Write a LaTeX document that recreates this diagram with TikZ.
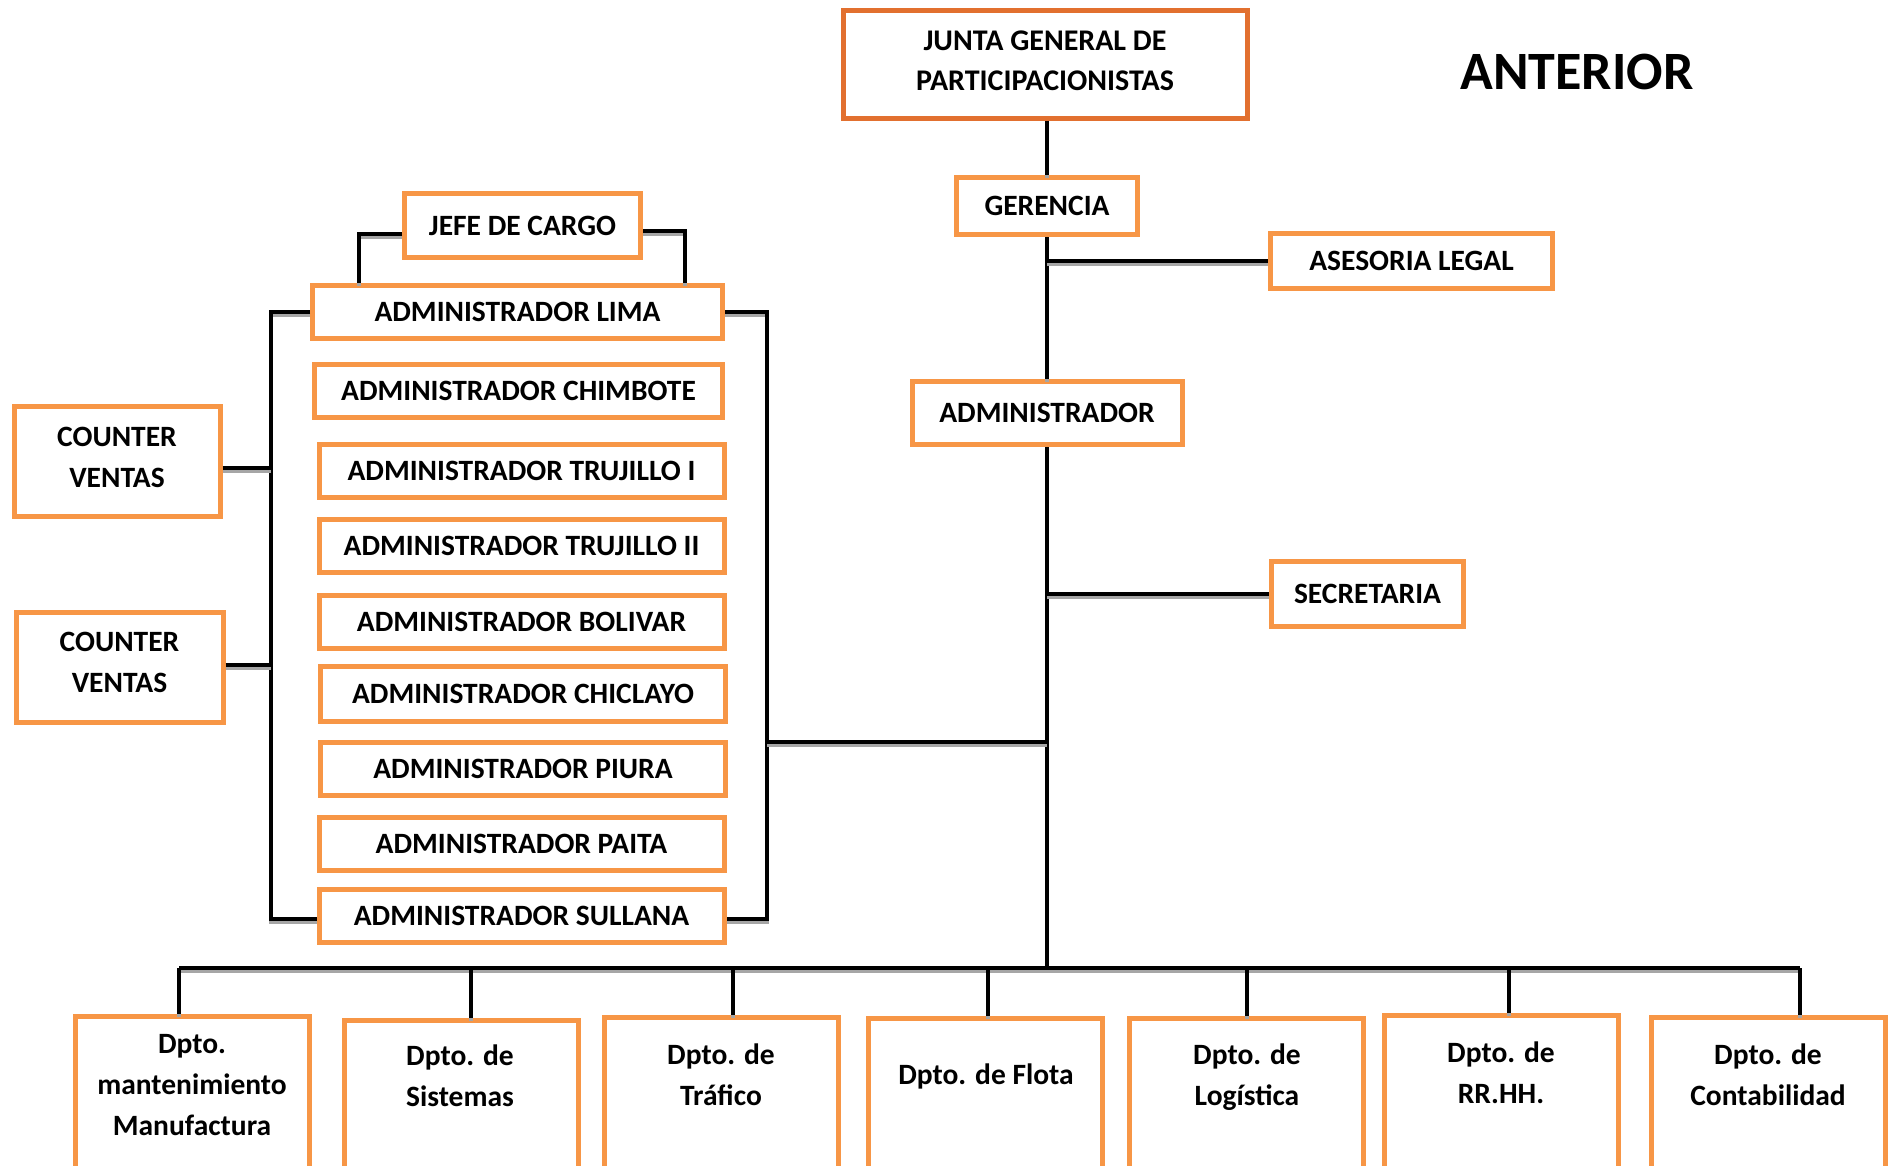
\documentclass[tikz,border=0pt]{standalone}
\usepackage{fontspec}
\setmainfont{Carlito}
\definecolor{boxorange}{HTML}{F79646}
\definecolor{headorange}{HTML}{E2702F}
\begin{document}
\begin{tikzpicture}[x=1pt,y=-1pt,
  box/.style={draw=boxorange, line width=5pt, fill=white, align=center,
    inner sep=0pt, font=\bfseries\fontsize{29.5}{41}\selectfont},
  headbox/.style={box, draw=headorange, font=\bfseries\fontsize{30}{40}\selectfont},
  adm/.style={box, minimum width=405pt, minimum height=53pt},
  dept/.style={box, anchor=north, minimum width=234pt, minimum height=220pt},
  depttext/.style={align=center, inner sep=0pt, font=\bfseries\fontsize{29.5}{41}\selectfont},
  conn/.style={line width=3.5pt, draw=black,
    preaction={draw=black!35, line width=3.5pt, transform canvas={yshift=-3pt}}}]
\useasboundingbox (0,0) rectangle (1894,1165);
\clip (0,0) rectangle (1894,1165);

% title
\node[font=\bfseries\fontsize{54}{60}\selectfont] (title) at (1577,72) {ANTERIOR};

% top of the hierarchy
\node[headbox, minimum width=404pt, minimum height=108pt, text depth=7pt] (junta) at (1045,64) {JUNTA GENERAL DE\\PARTICIPACIONISTAS};
\node[box, minimum width=181pt, minimum height=57pt] (ger) at (1047,206) {GERENCIA};
\node[box, minimum width=282pt, minimum height=55pt] (legal) at (1411.5,261) {ASESORIA LEGAL};
\node[box, minimum width=270pt, minimum height=63pt] (admin) at (1047,413) {ADMINISTRADOR};
\node[box, minimum width=192pt, minimum height=65pt] (secre) at (1367.5,594) {SECRETARIA};

% branch administrators
\node[box, minimum width=236pt, minimum height=64pt] (jefe) at (522.5,225.5) {JEFE DE CARGO};
\node[adm, minimum width=410pt] (lima) at (517.5,312) {ADMINISTRADOR LIMA};
\node[adm, minimum width=408pt] (chim) at (518.5,391) {ADMINISTRADOR CHIMBOTE};
\node[adm] (tru1) at (521.5,471) {ADMINISTRADOR TRUJILLO I};
\node[adm] (tru2) at (521.5,546) {ADMINISTRADOR TRUJILLO II};
\node[adm] (boli) at (521.5,622) {ADMINISTRADOR BOLIVAR};
\node[adm, minimum height=55pt] (chic) at (523,694) {ADMINISTRADOR CHICLAYO};
\node[adm] (piura) at (523,769) {ADMINISTRADOR PIURA};
\node[adm] (paita) at (521.5,843.5) {ADMINISTRADOR PAITA};
\node[adm] (sull) at (521.5,916) {ADMINISTRADOR SULLANA};

% sales counters
\node[box, minimum width=206pt, minimum height=110pt, text depth=9pt] (cnt1) at (117,461.5) {COUNTER\\VENTAS};
\node[box, minimum width=207pt, minimum height=110pt, text depth=9pt] (cnt2) at (119.5,667) {COUNTER\\VENTAS};

% departments
\node[dept] (d1) at (192,1013.5) {};
\node[dept] (d2) at (461.5,1017.5) {};
\node[dept] (d3) at (721.5,1014.5) {};
\node[dept] (d4) at (985.5,1015.5) {};
\node[dept] (d5) at (1246.5,1015.5) {};
\node[dept] (d6) at (1501.5,1012.5) {};
\node[dept] (d7) at (1768.5,1014.5) {};
\node[depttext] (d1t) at (192,1085.5) {Dpto.\\mantenimiento\\Manufactura};
\node[depttext] (d2t) at (460,1076) {Dpto. de\\Sistemas};
\node[depttext] (d3t) at (721,1075) {Dpto. de\\Tráfico};
\node[depttext] (d4t) at (986,1076) {Dpto. de Flota};
\node[depttext] (d5t) at (1247,1077) {Dpto. de\\Logística};
\node[depttext] (d6t) at (1501,1073) {Dpto. de\\RR.HH.};
\node[depttext] (d7t) at (1768,1075) {Dpto. de\\Contabilidad};

% junction and bend points
\coordinate (bus) at (1047,968);
\coordinate (busL) at (179,968);
\coordinate (busR) at (1800,968);
\coordinate (regR) at (767,742);
\coordinate (rT) at (767,312);
\coordinate (rB) at (767,919);
\coordinate (lT) at (271,312);
\coordinate (lB) at (271,919);
\coordinate (jL) at (359,234);
\coordinate (jR) at (685,231);

% main spine
\draw[conn] (ger.north |- junta.south) -- (ger.north);
\draw[conn] (ger.south) -- (admin.north);
\draw[conn] (admin.south) -- (bus);
\draw[conn] (ger.south |- legal.west) -- (legal.west);
\draw[conn] (admin.south |- secre.west) -- (secre.west);

% regional group
\draw[conn] (lima.east) -- (rT) -- (rB) -- (sull.east |- rB);
\draw[conn] (regR) -- (bus |- regR);
\draw[conn] (lima.west) -- (lT) -- (lB) -- (sull.west |- lB);
\draw[conn] (cnt1.east |- 0,468) -- (lT |- 0,468);
\draw[conn] (cnt2.east |- 0,665) -- (lT |- 0,665);
\draw[conn] (jefe.west |- jL) -- (jL) -- (jL |- lima.north);
\draw[conn] (jefe.east |- jR) -- (jR) -- (jR |- lima.north);

% department bus
\draw[conn] (busL) -- (busR);
\draw[conn] (busL) -- (busL |- d1.north);
\draw[conn] (471,968) -- (471,968 |- d2.north);
\draw[conn] (733,968) -- (733,968 |- d3.north);
\draw[conn] (988,968) -- (988,968 |- d4.north);
\draw[conn] (1247,968) -- (1247,968 |- d5.north);
\draw[conn] (1509,968) -- (1509,968 |- d6.north);
\draw[conn] (busR) -- (busR |- d7.north);
\end{tikzpicture}
\end{document}
